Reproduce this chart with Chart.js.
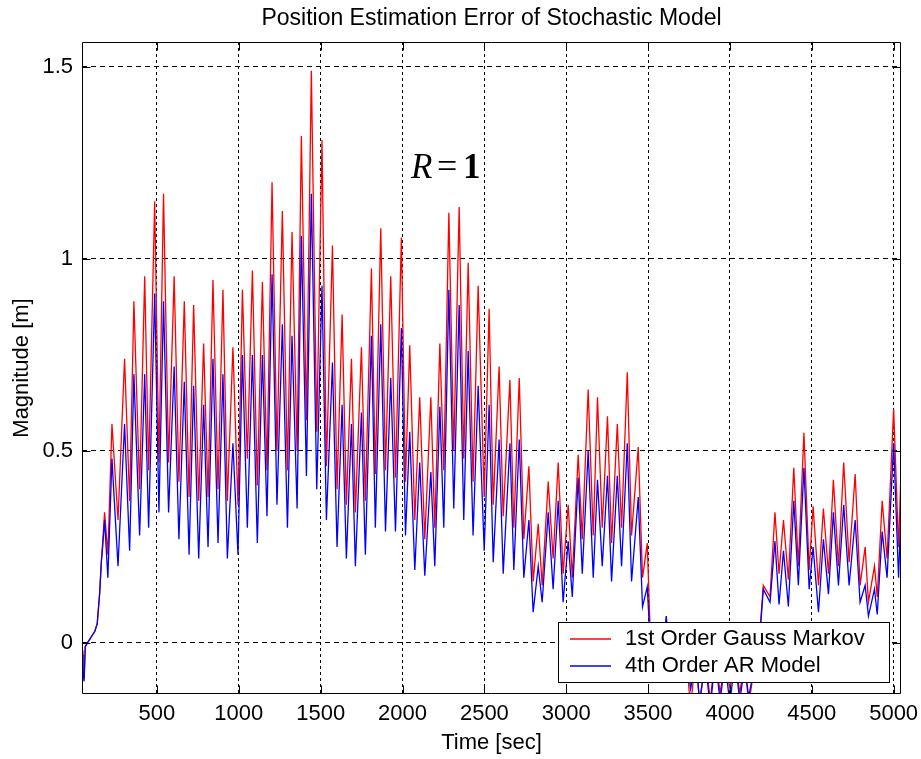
<!DOCTYPE html>
<html>
<head>
<meta charset="utf-8">
<title>Position Estimation Error of Stochastic Model</title>
<script src="https://cdn.jsdelivr.net/npm/chart.js@4.4.1/dist/chart.umd.min.js"></script>
<style>
    html, body { margin: 0; padding: 0; background: #fff; }
    #wrap { width: 921px; height: 759px; }
</style>
</head>
<body>
<div id="wrap"><canvas id="errorChart" width="921" height="759"></canvas></div>
<script>
// time axis (sec), one entry per peak / trough
const timeSec = [
    42, 48, 55, 62, 75, 90, 105, 120, 135, 150,
    160, 168, 180, 200, 225, 262, 302, 333, 359, 394,
    425, 449, 486, 512, 540, 571, 605, 634, 667, 696,
    724, 755, 785, 812, 842, 873, 903, 930, 964, 995,
    1022, 1052, 1083, 1113, 1144, 1172, 1203, 1233, 1266, 1297,
    1325, 1356, 1382, 1413, 1443, 1476, 1508, 1535, 1572, 1600,
    1631, 1657, 1688, 1712, 1749, 1773, 1810, 1834, 1867, 1896,
    1928, 1957, 1993, 2018, 2044, 2075, 2105, 2136, 2173, 2197,
    2228, 2252, 2283, 2313, 2346, 2374, 2401, 2431, 2462, 2499,
    2529, 2554, 2590, 2615, 2656, 2680, 2713, 2741, 2772, 2798,
    2829, 2853, 2890, 2920, 2951, 2981, 3012, 3037, 3073, 3098,
    3134, 3165, 3191, 3220, 3252, 3277, 3312, 3338, 3373, 3399,
    3440, 3466, 3495, 3518, 3550, 3580, 3611, 3640, 3670, 3700,
    3730, 3760, 3790, 3815, 3850, 3880, 3910, 3940, 3970, 4000,
    4030, 4060, 4090, 4115, 4150, 4185, 4204, 4245, 4275, 4300,
    4327, 4357, 4390, 4418, 4452, 4484, 4508, 4541, 4571, 4602,
    4632, 4663, 4695, 4728, 4765, 4795, 4826, 4846, 4883, 4900,
    4930, 4960, 5000, 5030, 5045,
];

// 1st order Gauss Markov (red), magnitude in m
const gaussMarkovErr = [
    -0.02, -0.07, -0.09, -0.01, 0.0, 0.01, 0.02, 0.03, 0.05, 0.13,
    0.21, 0.26, 0.34, 0.23, 0.57, 0.32, 0.74, 0.37, 0.89, 0.40,
    0.955, 0.45, 1.15, 0.47, 1.17, 0.47, 0.955, 0.42, 0.89, 0.38,
    0.88, 0.37, 0.78, 0.38, 0.945, 0.40, 0.92, 0.37, 0.77, 0.36,
    0.92, 0.48, 0.97, 0.41, 0.94, 0.45, 1.20, 0.50, 1.125, 0.45,
    1.07, 0.50, 1.32, 0.58, 1.49, 0.55, 1.31, 0.46, 1.035, 0.40,
    0.855, 0.36, 0.74, 0.34, 0.77, 0.37, 0.975, 0.44, 1.08, 0.45,
    0.955, 0.43, 1.056, 0.42, 0.775, 0.32, 0.64, 0.27, 0.64, 0.30,
    0.78, 0.45, 1.12, 0.50, 1.135, 0.48, 0.99, 0.42, 0.93, 0.38,
    0.87, 0.36, 0.72, 0.33, 0.685, 0.30, 0.69, 0.27, 0.46, 0.16,
    0.31, 0.15, 0.42, 0.22, 0.47, 0.18, 0.36, 0.17, 0.49, 0.27,
    0.66, 0.28, 0.64, 0.30, 0.59, 0.26, 0.57, 0.30, 0.705, 0.28,
    0.51, 0.17, 0.26, -0.04, 0.02, -0.05, 0.03, -0.06, 0.0, -0.08,
    -0.02, -0.17, -0.03, -0.16, -0.04, -0.15, -0.03, -0.13, -0.05, -0.12,
    -0.03, -0.13, -0.05, -0.16, -0.06, 0.04, 0.15, 0.12, 0.34, 0.18,
    0.32, 0.165, 0.456, 0.20, 0.547, 0.19, 0.356, 0.15, 0.35, 0.18,
    0.425, 0.20, 0.47, 0.21, 0.44, 0.15, 0.25, 0.106, 0.20, 0.12,
    0.37, 0.22, 0.61, 0.25, 0.446,
];

// 4th order AR model (blue), magnitude in m
const arModelErr = [
    -0.03, -0.08, -0.10, -0.01, 0.0, 0.01, 0.02, 0.03, 0.05, 0.13,
    0.21, 0.25, 0.32, 0.17, 0.48, 0.20, 0.57, 0.24, 0.70, 0.28,
    0.70, 0.30, 0.91, 0.34, 0.89, 0.34, 0.72, 0.27, 0.68, 0.23,
    0.67, 0.22, 0.62, 0.25, 0.74, 0.26, 0.70, 0.22, 0.52, 0.23,
    0.75, 0.30, 0.75, 0.26, 0.75, 0.33, 0.96, 0.36, 0.83, 0.30,
    0.80, 0.35, 1.06, 0.435, 1.17, 0.40, 0.93, 0.32, 0.73, 0.25,
    0.62, 0.22, 0.57, 0.20, 0.60, 0.23, 0.80, 0.30, 0.83, 0.29,
    0.69, 0.29, 0.82, 0.28, 0.55, 0.19, 0.47, 0.175, 0.445, 0.20,
    0.615, 0.30, 0.92, 0.35, 0.88, 0.32, 0.76, 0.28, 0.67, 0.24,
    0.62, 0.21, 0.53, 0.18, 0.52, 0.19, 0.53, 0.17, 0.32, 0.08,
    0.20, 0.106, 0.34, 0.14, 0.37, 0.106, 0.265, 0.12, 0.43, 0.18,
    0.50, 0.17, 0.425, 0.20, 0.435, 0.16, 0.435, 0.20, 0.52, 0.16,
    0.38, 0.094, 0.146, -0.04, 0.01, -0.06, 0.07, -0.07, -0.01, -0.09,
    -0.03, -0.12, -0.04, -0.15, -0.05, -0.17, -0.04, -0.15, -0.05, -0.16,
    -0.04, -0.15, -0.06, -0.14, -0.06, 0.03, 0.14, 0.106, 0.265, 0.10,
    0.24, 0.095, 0.37, 0.15, 0.456, 0.14, 0.25, 0.08, 0.27, 0.127,
    0.34, 0.15, 0.36, 0.15, 0.32, 0.106, 0.15, 0.07, 0.14, 0.074,
    0.29, 0.17, 0.52, 0.17, 0.35,
];

const seriesNames = ["1st Order Gauss Markov", "4th Order AR Model"];
const xTickValues = [500, 1000, 1500, 2000, 2500, 3000, 3500, 4000, 4500, 5000];
const yTickValues = [0, 0.5, 1, 1.5];
const xLimits = [42, 5045];
const yLimits = [-0.133, 1.565];

const FONT = "'Liberation Sans', Arial, Helvetica, sans-serif";
const SERIF = "'Liberation Serif', 'Times New Roman', serif";

Chart.defaults.font.family = FONT;
Chart.defaults.color = "#000";

function toPoints(values) {
    return timeSec.map((t, i) => ({ x: t, y: values[i] }));
}

// box, inward ticks, R = 1 note and legend drawn over the plot
const matlabFrame = {
    id: "matlabFrame",
    afterDraw(chart) {
        const { ctx, chartArea: a } = chart;
        const xs = chart.scales.x;
        const ys = chart.scales.y;
        const L = Math.round(a.left) + 0.5;
        const R = Math.round(a.right) - 0.5;
        const T = Math.round(a.top) + 0.5;
        const B = Math.round(a.bottom) - 0.5;
        const tick = 8;

        ctx.save();
        ctx.strokeStyle = "#000";
        ctx.lineWidth = 1;
        ctx.setLineDash([]);
        ctx.beginPath();
        ctx.rect(L, T, R - L, B - T);
        xTickValues.forEach((v) => {
            const px = Math.round(xs.getPixelForValue(v)) + 0.5;
            ctx.moveTo(px, B);
            ctx.lineTo(px, B - tick);
            ctx.moveTo(px, T);
            ctx.lineTo(px, T + tick);
        });
        yTickValues.forEach((v) => {
            const py = Math.round(ys.getPixelForValue(v)) + 0.5;
            ctx.moveTo(L, py);
            ctx.lineTo(L + tick, py);
            ctx.moveTo(R, py);
            ctx.lineTo(R - tick, py);
        });
        ctx.stroke();

        // R = 1
        const nx = xs.getPixelForValue(2052);
        const ny = ys.getPixelForValue(1.21);
        ctx.fillStyle = "#000";
        ctx.textBaseline = "alphabetic";
        ctx.textAlign = "left";
        ctx.font = "italic 35px " + SERIF;
        ctx.fillText("R", nx, ny);
        ctx.font = "36px " + SERIF;
        ctx.fillText("=", nx + 26, ny);
        ctx.font = "bold 35px " + SERIF;
        ctx.fillText("1", nx + 52, ny);

        // legend box
        const lx = 558, ly = 622, lw = 331, lh = 60;
        ctx.fillStyle = "#fff";
        ctx.fillRect(lx, ly, lw, lh);
        ctx.strokeRect(lx + 0.5, ly + 0.5, lw, lh);
        const colors = ["#ff0000", "#0000ff"];
        ctx.font = "22px " + FONT;
        ctx.textBaseline = "middle";
        seriesNames.forEach((name, i) => {
            const yy = ly + 17 + i * 27;
            ctx.strokeStyle = colors[i];
            ctx.lineWidth = 1.5;
            ctx.beginPath();
            ctx.moveTo(570, yy);
            ctx.lineTo(611, yy);
            ctx.stroke();
            ctx.fillStyle = "#000";
            ctx.fillText(name, 625, yy);
        });
        ctx.restore();
    },
};

new Chart(document.getElementById("errorChart"), {
    type: "line",
    data: {
        datasets: [
            {
                label: seriesNames[1],
                data: toPoints(arModelErr),
                borderColor: "#0000ff",
                borderWidth: 1.3,
                order: 0,
            },
            {
                label: seriesNames[0],
                data: toPoints(gaussMarkovErr),
                borderColor: "#ff0000",
                borderWidth: 1.3,
                order: 1,
            },
        ],
    },
    options: {
        responsive: false,
        animation: false,
        devicePixelRatio: 1,
        layout: { padding: { left: 0, right: 20, top: 0, bottom: 0 } },
        elements: {
            point: { radius: 0 },
            line: { tension: 0, fill: false },
        },
        datasets: { line: { clip: 0 } },
        plugins: {
            legend: { display: false },
            tooltip: { enabled: false },
            title: {
                display: true,
                fullSize: false,
                text: "Position Estimation Error of Stochastic Model",
                font: { size: 23, weight: "normal" },
                color: "#000",
                padding: { top: 5, bottom: 9.4 },
            },
        },
        scales: {
            x: {
                type: "linear",
                min: xLimits[0],
                max: xLimits[1],
                afterBuildTicks: (s) => {
                    s.ticks = xTickValues.map((v) => ({ value: v }));
                },
                afterFit: (s) => {
                    s.height = 65;
                    s.paddingLeft = 0;
                    s.paddingRight = 0;
                },
                ticks: {
                    font: { size: 22 },
                    color: "#000",
                    padding: 7,
                    maxRotation: 0,
                    autoSkip: false,
                    callback: (v) => String(v),
                },
                grid: { color: "#000", lineWidth: 1, drawTicks: false },
                border: { display: false, dash: [3, 3] },
                title: {
                    display: true,
                    text: "Time [sec]",
                    font: { size: 22 },
                    color: "#000",
                    padding: { top: 0, bottom: 3 },
                },
            },
            y: {
                type: "linear",
                min: yLimits[0],
                max: yLimits[1],
                afterBuildTicks: (s) => {
                    s.ticks = yTickValues.map((v) => ({ value: v }));
                },
                afterFit: (s) => {
                    s.width = 82;
                    s.paddingTop = 0;
                    s.paddingBottom = 0;
                },
                ticks: {
                    font: { size: 22 },
                    color: "#000",
                    padding: 9,
                    callback: (v) => String(v),
                },
                grid: { color: "#000", lineWidth: 1, drawTicks: false },
                border: { display: false, dash: [5, 4] },
                title: {
                    display: true,
                    text: "Magnitude [m]",
                    font: { size: 22 },
                    color: "#000",
                    padding: { top: 9, bottom: 0 },
                },
            },
        },
    },
    plugins: [matlabFrame],
});
</script>
</body>
</html>
